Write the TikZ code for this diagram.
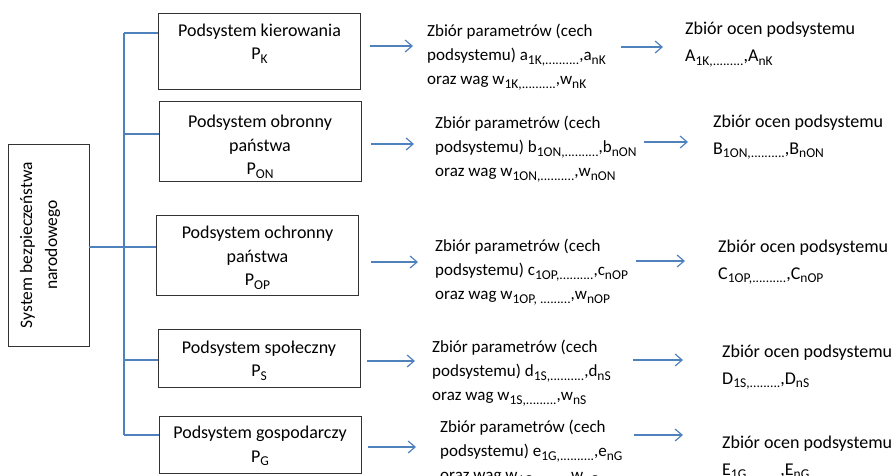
\documentclass[tikz,border=0pt]{standalone}
\usepackage{fontspec}
\setmainfont{Carlito}
\usetikzlibrary{arrows.meta}
\definecolor{lineblue}{RGB}{79,129,189}
\newcommand{\ix}[1]{\raisebox{-0.2em}{\fontsize{13.5}{13.5}\selectfont #1}}

\begin{document}
\begin{tikzpicture}[x=1pt,y=-1pt,
    frame/.style={draw=black!80,line width=0.8pt},
    subsys/.style={frame,minimum width=202pt},
    boxtxt/.style={align=center,inner sep=0pt,font=\fontsize{18}{23.5}\selectfont},
    txt/.style={anchor=west,align=left,inner sep=0pt,font=\fontsize{17}{24}\selectfont},
    res/.style={anchor=west,align=left,inner sep=0pt,font=\fontsize{18}{27}\selectfont},
    link/.style={draw=lineblue,line width=1.2pt},
    arr/.style={link,-{Straight Barb[length=7pt,width=12pt]}}]
    \useasboundingbox (0,0) rectangle (895,475);
    % system box
    \node[frame,minimum width=81pt,minimum height=202pt] (sys) at (48.5,245) {};
    \node[rotate=90,align=center,font=\fontsize{17.5}{25}\selectfont] (systxt) at (40,245) {System bezpieczeństwa\\narodowego};
    % subsystems
    \node[subsys,minimum height=76pt] (pk) at (259.5,51) {};
    \node[subsys,minimum height=80pt] (pon) at (260,141) {};
    \node[subsys,minimum height=80pt] (pop) at (257.5,255) {};
    \node[subsys,minimum height=58pt] (ps) at (259,358) {};
    \node[subsys,minimum height=57pt] (pg) at (260,444.5) {};
    \node[boxtxt] (pktxt) at (pk |- 0,43.5) {Podsystem kierowania\\P\ix{K}};
    \node[boxtxt] (pontxt) at (pon |- 0,147) {Podsystem obronny\\państwa\\P\ix{ON}};
    \node[boxtxt] (poptxt) at (pop |- 0,258) {Podsystem ochronny\\państwa\\P\ix{OP}};
    \node[boxtxt] (pstxt) at (ps |- 0,360.5) {Podsystem społeczny\\P\ix{S}};
    \node[boxtxt] (pgtxt) at (pg |- 0,446) {Podsystem gospodarczy\\P\ix{G}};
    % parameters
    \node[txt] (zk) at (427,57) {Zbiór parametrów (cech\\podsystemu) a\ix{1K,..........},a\ix{nK}\\oraz wag w\ix{1K,..........},w\ix{nK}};
    \node[txt] (zon) at (435,149) {Zbiór parametrów (cech\\podsystemu) b\ix{1ON,..........},b\ix{nON}\\oraz wag w\ix{1ON,..........},w\ix{nON}};
    \node[txt] (zop) at (435,272) {Zbiór parametrów (cech\\podsystemu) c\ix{1OP,..........},c\ix{nOP}\\oraz wag w\ix{1OP, .........},w\ix{nOP}};
    \node[txt] (zs) at (432,373) {Zbiór parametrów (cech\\podsystemu) d\ix{1S,..........},d\ix{nS}\\oraz wag w\ix{1S,.........},w\ix{nS}};
    \node[txt] (zg) at (440,453) {Zbiór parametrów (cech\\podsystemu) e\ix{1G,..........},e\ix{nG}\\oraz wag w\ix{1G,.........},w\ix{nG}};
    % assessments
    \node[res] (ok) at (685,44.5) {Zbiór ocen podsystemu\\A\ix{1K,.........},A\ix{nK}};
    \node[res] (oon) at (713,137) {Zbiór ocen podsystemu\\B\ix{1ON,..........},B\ix{nON}};
    \node[res] (oop) at (718,262) {Zbiór ocen podsystemu\\C\ix{1OP,..........},C\ix{nOP}};
    \node[res] (os) at (722,367) {Zbiór ocen podsystemu\\D\ix{1S,.........},D\ix{nS}};
    \node[res] (og) at (722,458) {Zbiór ocen podsystemu\\E\ix{1G,.........},E\ix{nG}};
    % tree
    \coordinate (j0) at (124,247);
    \coordinate (j1) at (124,33);
    \coordinate (j2) at (124,134);
    \coordinate (j3) at (124,247);
    \coordinate (j4) at (124,360);
    \coordinate (j5) at (124,435);
    \draw[link] (j1) -- (j5);
    \draw[link] (sys.east |- j0) -- (j0);
    \foreach \j/\b in {1/pk,2/pon,3/pop,4/ps,5/pg}
      \draw[link] (j\j) -- (j\j -| \b.west);
    % arrows
    \foreach \b/\z/\o/\ya/\sa/\ea/\yb/\sb/\eb in {pk/zk/ok/46/9pt/14pt/47/15pt/22pt,
        pon/zon/oon/144/10pt/21pt/142/7pt/25pt, pop/zop/oop/262/12pt/17pt/261/8pt/33pt,
        ps/zs/os/361/7pt/17pt/360/22pt/39pt, pg/zg/og/447/7pt/24pt/435/11pt/39pt} {
      \draw[arr,shorten <=\sa,shorten >=\ea] (\b.east |- 0,\ya) -- (\z.west |- 0,\ya);
      \draw[arr,shorten <=\sb,shorten >=\eb] (\z.east |- 0,\yb) -- (\o.west |- 0,\yb);
    }
\end{tikzpicture}
\end{document}
